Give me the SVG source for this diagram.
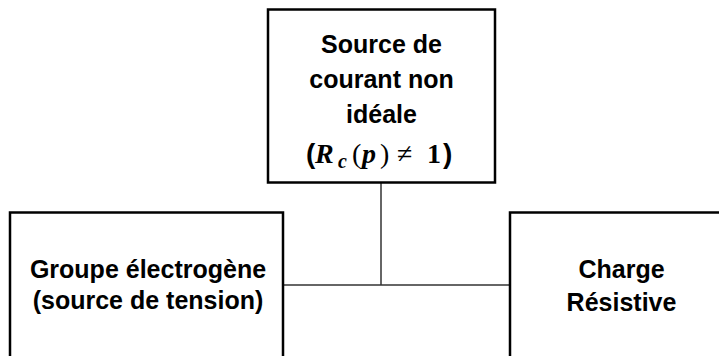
<svg xmlns="http://www.w3.org/2000/svg" width="719" height="356" viewBox="0 0 719 356">
<style>
.box{fill:#fff;stroke:#000;stroke-width:2.5}
.lbl{font-family:"Liberation Sans",Arial,sans-serif;font-weight:bold;font-size:25px;fill:#000;text-anchor:middle}
.conn{stroke:#333;stroke-width:1.5;fill:none}
.mi{font-family:"Liberation Serif","Times New Roman",serif;font-weight:bold;font-style:italic}
.mr{font-family:"Liberation Serif","Times New Roman",serif}
.mb{font-family:"Liberation Serif","Times New Roman",serif;font-weight:bold}
.sb{font-family:"Liberation Sans",Arial,sans-serif;font-weight:bold}
</style>
<rect width="719" height="356" fill="#fff"/>
<g id="connectors">
<line class="conn" x1="381" y1="183" x2="381" y2="285"/>
<line class="conn" x1="283" y1="285" x2="510" y2="285"/>
</g>
<g id="source-courant">
<rect class="box" x="268" y="9.5" width="227" height="173"/>
<text class="lbl" x="381.5" y="53">Source de</text>
<text class="lbl" x="381.5" y="88">courant non</text>
<text class="lbl" x="381.5" y="123">idéale</text>
<text y="163" font-size="28" fill="#000"><tspan class="sb" x="306">(</tspan><tspan class="mi" x="315">R</tspan><tspan class="mi" x="338" dy="5" font-size="20">c</tspan><tspan class="mr" x="352" dy="-5">(</tspan><tspan class="mi" x="362">p</tspan><tspan class="mr" x="380">)</tspan><tspan class="mr" x="397">≠</tspan><tspan class="mb" x="427">1</tspan><tspan class="sb" x="443">)</tspan></text>
</g>
<g id="groupe">
<path class="box" d="M10,357 V212.5 H283 V357"/>
<text class="lbl" x="148" y="278">Groupe électrogène</text>
<text class="lbl" x="148" y="309">(source de tension)</text>
</g>
<g id="charge">
<path class="box" d="M510,357 V212.5 H722 V357"/>
<text class="lbl" x="621.5" y="278">Charge</text>
<text class="lbl" x="621.5" y="311">Résistive</text>
</g>
</svg>
